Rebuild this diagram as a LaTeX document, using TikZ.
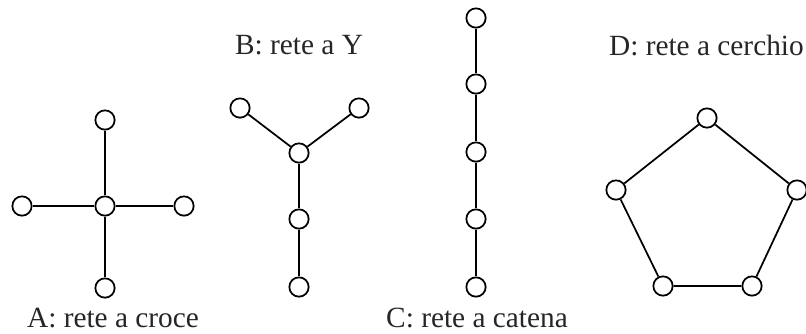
\documentclass[tikz,border=0pt]{standalone}
\usepackage{fontspec}
\setmainfont{Liberation Serif}
\usepackage{tikz}
\usetikzlibrary{positioning}

\begin{document}
\begin{tikzpicture}[
        x=0.75pt, y=-0.75pt,
        netnode/.style={draw, circle, line width=1.3pt, minimum size=14.5pt, inner sep=0pt, fill=white},
        netlabel/.style={font=\fontsize{22}{26}\selectfont, text=black!85, inner sep=0pt},
        link/.style={line width=1.3pt}
    ]
        \useasboundingbox (0,0) rectangle (806,333);

        % A: croce
        \node[netnode] (A0) at (105,206) {};
        \node[netnode] (A1) at (105,120) {};
        \node[netnode] (A2) at (22,206) {};
        \node[netnode] (A3) at (184,206) {};
        \node[netnode] (A4) at (105,288) {};
        \foreach \n in {A1,A2,A3,A4} \draw[link] (A0) -- (\n);
        \node[netlabel, anchor=base] (LA) at (113,327) {A: rete a croce};

        % B: Y
        \node[netnode] (B0) at (299,153) {};
        \node[netnode] (B1) at (240,108) {};
        \node[netnode] (B2) at (359,108) {};
        \node[netnode] (B3) at (299,219) {};
        \node[netnode] (B4) at (299,287) {};
        \draw[link] (B1) -- (B0) -- (B2);
        \draw[link] (B0) -- (B3) -- (B4);
        \node[netlabel, anchor=base] (LB) at (299,54) {B: rete a Y};

        % C: catena
        \foreach \i/\yy in {1/18, 2/84, 3/152, 4/219, 5/287}
            \node[netnode] (C\i) at (476,\yy) {};
        \draw[link] (C1) -- (C2) -- (C3) -- (C4) -- (C5);
        \node[netlabel, anchor=base] (LC) at (477,327) {C: rete a catena};

        % D: cerchio
        \node[netnode] (D1) at (707,118) {};
        \node[netnode] (D2) at (797,190) {};
        \node[netnode] (D3) at (752,286) {};
        \node[netnode] (D4) at (663,286) {};
        \node[netnode] (D5) at (616,190) {};
        \draw[link] (D1) -- (D2) -- (D3) -- (D4) -- (D5) -- (D1);
        \node[netlabel, anchor=base east] (LD) at (804,55) {D: rete a cerchio};
    \end{tikzpicture}
\end{document}
